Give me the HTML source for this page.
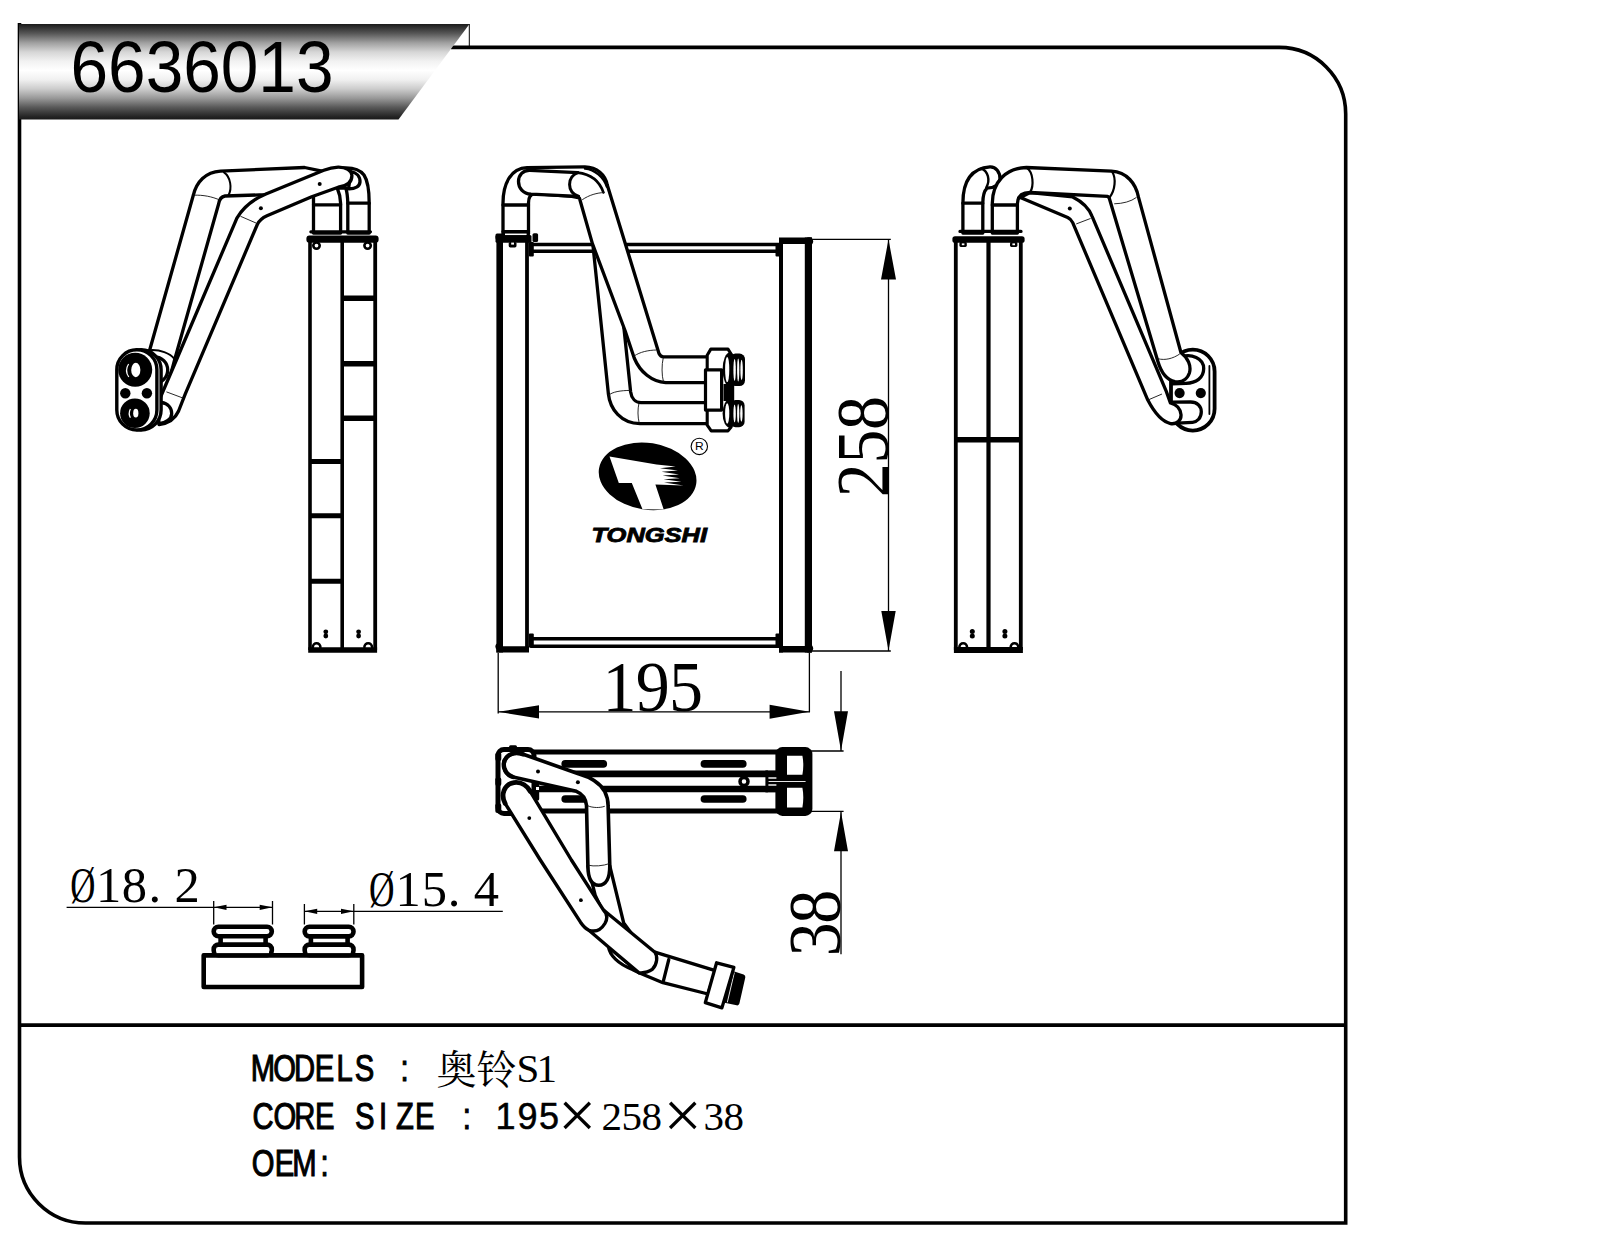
<!DOCTYPE html>
<html lang="zh">
<head>
<meta charset="utf-8">
<title>6636013</title>
<style>
html,body{margin:0;padding:0;background:#fff;}
body{width:1598px;height:1244px;overflow:hidden;}
svg{display:block;}
.k{fill:none;stroke:#000;stroke-linecap:round;stroke-linejoin:round;}
.w{fill:#fff;stroke:#000;stroke-linecap:round;stroke-linejoin:round;}
.bt{stroke-linecap:butt;}
.t{fill:none;stroke:#111;stroke-width:0.9;stroke-linecap:round;}
.d{fill:none;stroke:#000;stroke-width:1.3;}
.b{fill:#000;stroke:none;}
.sans{font-family:"Liberation Sans",sans-serif;}
.serif{font-family:"Liberation Serif","Noto Serif CJK SC",serif;}
.mono{font-family:"Liberation Mono","Noto Sans CJK SC",monospace;}
</style>
</head>
<body>
<svg width="1598" height="1244" viewBox="0 0 1598 1244" stroke-width="3.3">
<defs>
<linearGradient id="bg" x1="0" y1="0" x2="0" y2="1">
<stop offset="0" stop-color="#1a1a1a"/>
<stop offset="0.10" stop-color="#585858"/>
<stop offset="0.197" stop-color="#a0a0a0"/>
<stop offset="0.293" stop-color="#d6d6d6"/>
<stop offset="0.39" stop-color="#f2f2f2"/>
<stop offset="0.486" stop-color="#ffffff"/>
<stop offset="0.584" stop-color="#f0f0f0"/>
<stop offset="0.68" stop-color="#cccccc"/>
<stop offset="0.777" stop-color="#989898"/>
<stop offset="0.873" stop-color="#585858"/>
<stop offset="0.97" stop-color="#242424"/>
<stop offset="1" stop-color="#1a1a1a"/>
</linearGradient>
</defs>
<rect x="0" y="0" width="1598" height="1244" fill="#fff"/>
<!-- FRAME -->
<g id="frame">
<path d="M19.5 23 V1157 A66 66 0 0 0 85.5 1223 H1345.7 V114 A66.5 66.5 0 0 0 1279.2 47.4 H451" fill="none" stroke="#000" stroke-width="3.6"/>
<path d="M19.5 1025.1 H1345.7" fill="none" stroke="#000" stroke-width="3.6"/>
<path d="M469.3 24 V47.4" fill="none" stroke="#000" stroke-width="1"/>
<polygon points="19,24 469.5,24 398.5,119.6 19,119.6" fill="url(#bg)"/>
<text class="sans" x="70.5" y="91.5" font-size="73" textLength="263" lengthAdjust="spacingAndGlyphs">6636013</text>
</g>
<!-- LEFTVIEW -->
<g id="left">
<!-- back pipe (wide) -->
<path class="w" d="M322 171.2 L304.6 167.5 L220.5 171.1 C205.5 172 196.5 182 193.3 195.3 L149.7 350 L141 385 L166 392 L175 358.4 L218.6 204 C219.3 199.5 221 196.6 225 196 L265 194.7 L304 190 Z"/>
<path class="k" stroke-width="2" d="M224 172.4 C230.5 177 232.4 188 228.4 195.4"/>
<path class="t" d="M194.2 195.2 C203 194.8 212 196.6 219.8 200"/>
<path class="k" stroke-width="2" d="M149.9 350.2 C160 349.5 170 353 174.4 359"/>
<!-- port flanges behind connector -->
<circle class="w" cx="154.5" cy="370" r="13.2"/>
<!-- right elbow and stubs -->
<path class="w" d="M338 168.5 C350 166.8 359 168.5 364 175 C368 181 369.2 190 369.2 203.2 V233 H347.8 V203 C347.6 196 347 192 345.8 188 L337.2 188 C339 192 340.4 197 340.6 203.2 V233 H313.5 V190 Z"/>
<path class="k" d="M313.5 204.8 H340.6 M347.8 203.2 H369.2 M310.9 231.8 H370.4"/>
<path class="w" d="M351 171.6 C356.5 172.5 360.2 176.5 360 182 C359.6 186.5 355 189 348.5 188.8 Z"/>
<!-- front pipe (thin) -->
<path class="w" d="M351.9 175.5 C351.6 170.5 346 167 338.2 167.1 C333 167.3 328 168.6 323.8 170.3 L265.9 194 C254 199 243.5 207 236.9 218.1 L177.9 356.5 L158 403 L159 424.5 C170 423 176 417 178.6 411 L185.2 394.1 L257.3 224.5 C259.5 220 262.5 217.8 267 215.8 L311.7 196.8 L338.2 187.2 C347 186 352 182 351.9 175.5 Z"/>
<path class="k" d="M161.5 402.5 C168 403.5 171.7 408 171.7 413.5 C171.7 419 166 423 159 423.6"/>
<circle class="b" cx="319.7" cy="184.1" r="2"/>
<circle class="b" cx="260.9" cy="208.2" r="2"/>
<path class="t" d="M240.8 216.4 L256 223"/>
<path class="t" d="M166.8 392 L181.8 397.6"/>
<!-- core -->
<path class="k bt" stroke-width="3.6" d="M310 240 V650 M342.2 240 V650"/>
<path class="k bt" stroke-width="3.8" d="M375.2 240 V650"/>
<path class="k bt" stroke-width="5.6" d="M308.2 650 H377.1"/>
<path class="k bt" stroke-width="5.4" d="M342.2 298.3 H375.2 M342.2 363.7 H375.2 M342.2 418.2 H375.2"/>
<path class="k bt" stroke-width="5" d="M310 461.4 H342.2 M310 515.7 H342.2 M310 581.2 H342.2"/>
<rect class="b" x="306.4" y="235.4" width="72.2" height="7.4" rx="3"/>
<circle class="k" stroke-width="2.6" cx="316.5" cy="245.6" r="3.2"/><circle class="k" stroke-width="2.6" cx="367.6" cy="245.6" r="3.2"/>
<circle class="b" cx="325.8" cy="631.8" r="2.4"/><circle class="b" cx="325.8" cy="636" r="2.4"/>
<circle class="b" cx="358.6" cy="631.8" r="2.4"/><circle class="b" cx="358.6" cy="636" r="2.4"/>
<path class="k" stroke-width="2.6" d="M312.8 647 A3.8 3.8 0 0 1 320.4 647 M364.4 647 A3.8 3.8 0 0 1 372 647"/>
<!-- connector -->
<rect class="w" stroke-width="3.4" x="121" y="349.8" width="40.1" height="80.2" rx="20"/>
<rect class="w" stroke-width="3.4" x="116.8" y="349.8" width="40.1" height="80.2" rx="20"/>
<circle class="b" cx="135.2" cy="369.8" r="17"/>
<ellipse cx="135.8" cy="370" rx="4.6" ry="7.2" fill="#fff"/>
<path d="M128.6 364 C126 368 126 373 128.8 377" fill="none" stroke="#fff" stroke-width="1.2"/>
<circle class="b" cx="134.9" cy="413.3" r="14.8"/>
<ellipse cx="135.8" cy="413.2" rx="2.6" ry="4.4" fill="#fff"/>
<path d="M130.4 409 C128.8 412 128.8 415 130.4 417.8" fill="none" stroke="#fff" stroke-width="1.2"/>
<circle class="b" cx="125.3" cy="393.2" r="5.2"/>
<circle class="b" cx="146.9" cy="393.2" r="5.2"/>
</g>

<!-- /LEFTVIEW -->
<!-- FRONTVIEW -->
<g id="front">
<!-- core top/bottom bars -->
<path class="k" stroke-width="3.4" d="M531 244.5 H779 M531 251.3 H779"/>
<path class="k" stroke-width="3.4" d="M531 638.8 H779 M531 646.2 H779"/>
<rect class="b" x="528.9" y="242" width="4.9" height="14.5" rx="1"/>
<rect class="b" x="775.5" y="245" width="4.5" height="11.5" rx="1"/>
<rect class="b" x="528.9" y="633.5" width="4.9" height="14" rx="1"/>
<rect class="b" x="775.5" y="633.5" width="4.5" height="14" rx="1"/>
<!-- left tank -->
<path class="k bt" stroke-width="6.6" d="M499.7 240 V652.6"/>
<path class="k bt" stroke-width="3.8" d="M527 240 V652"/>
<path class="k bt" stroke-width="6.4" d="M496.4 649.4 H529"/>
<circle class="b" cx="499" cy="646.5" r="3.6"/>
<!-- right tank -->
<path class="k bt" stroke-width="4" d="M781 238 V652.6"/>
<path class="k bt" stroke-width="7.2" d="M808.4 237.5 V652.6"/>
<path class="k bt" stroke-width="6.4" d="M779 240.7 H812"/>
<path class="k bt" stroke-width="6.6" d="M779 649.3 H812"/>
<circle class="b" cx="809" cy="241.5" r="4.2"/>
<circle class="b" cx="809" cy="648.5" r="4.2"/>
</g>
<g id="frontpipes">
<!-- P2 thin pipe (behind) -->
<path class="w" d="M592 236 L608.4 394 C610 409 621 423.6 640 423.6 H708 V402.6 H641 C635.5 402.6 631.5 398.5 630.6 391.7 L621 300 L606 236 Z"/>
<path class="t" d="M608.6 395.2 C612.5 391.8 620 390.5 630.4 390.4"/>
<path class="t" d="M638.9 403.5 C637.6 409 637.6 417 639.1 422.5"/>
<!-- P1 wide pipe -->
<path class="w" d="M503 234 V203 C503 185 510 168.2 527 167.6 L585 166.9 C597 167 605.4 175 607.2 184.7 L659 353.5 C660 355.6 661.5 356.8 663.5 356.8 H709 V382.6 H665.7 C652 382 640 372 634.2 358 L625.2 331 L592.4 243.6 L579.4 198 L572 196.4 L534.5 193.6 C530.5 194 528.5 197 528.5 203 V234 Z"/>
<!-- inner horizontal tube -->
<path class="w" d="M577.6 172.6 L530 170.4 C523 170 518.5 175 518.5 181.5 C518.5 188 523 193.5 531 194.2 L578.5 196.4"/>
<path class="k" stroke-width="3" d="M577.6 172.6 C567 177 566.5 192 578.5 196.4"/>
<path class="k" stroke-width="2.6" d="M577.6 172.6 C590 174 599.5 181 603.4 192.4"/>
<path class="k" stroke-width="2.4" d="M585 168.5 C595 169.5 603.5 177 606.8 186.5"/>
<path class="t" d="M582.5 199.6 C589 195 597 192.8 604.2 192.5"/>
<path class="t" d="M634.4 355.8 C640 352 648 350.2 656 350"/>
<path class="t" d="M663.2 358 C661.6 365 661.6 375 663.4 381.6"/>
<!-- stub bands -->
<path class="k" d="M503 205 H528.5 M503 231.6 H528.5"/>
<!-- cap -->
<rect class="b" x="495.5" y="235" width="36" height="7.8" rx="1.5"/>
<rect class="b" x="495.5" y="233.4" width="8" height="6" rx="1.5"/>
<rect class="b" x="532.5" y="233.2" width="5.6" height="8.8" rx="1.6"/>
<path d="M505 234.3 H526.6" stroke="#fff" stroke-width="1.5" fill="none"/>
<rect class="b" x="508.7" y="242" width="7.8" height="5.4" rx="1.6"/>
<rect x="511.2" y="242.6" width="2.8" height="2" fill="#fff"/>
<!-- flange -->
<path class="w" stroke-width="3.1" d="M710.8 349.1 H728 L731.1 354 V427 L728 430.9 H711.2 L707.2 425.2 V355.3 Z"/>
<rect class="w" stroke-width="3.2" x="705.5" y="369.8" width="16.1" height="40.3"/>
<!-- ports -->
<rect class="b" x="723.5" y="384" width="10.7" height="17"/>
<ellipse cx="729.8" cy="369.5" rx="7.2" ry="17" class="b"/>
<ellipse cx="727.2" cy="369.5" rx="2.1" ry="12.6" fill="#fff"/>
<rect class="b" x="730" y="353.6" width="15" height="32.4" rx="5.5"/>
<ellipse cx="734.6" cy="370" rx="1.2" ry="11" fill="#fff"/>
<ellipse cx="738.2" cy="370" rx="1.1" ry="11.5" fill="#fff"/>
<ellipse cx="741.6" cy="370" rx="1.2" ry="10.2" fill="#fff"/>
<ellipse cx="729.8" cy="413.5" rx="7.2" ry="14.2" class="b"/>
<ellipse cx="727.2" cy="413.5" rx="2.1" ry="10.2" fill="#fff"/>
<rect class="b" x="730" y="400" width="14.6" height="27.2" rx="5.5"/>
<ellipse cx="734.6" cy="413.5" rx="1.2" ry="9" fill="#fff"/>
<ellipse cx="738.2" cy="413.5" rx="1.1" ry="9.5" fill="#fff"/>
<ellipse cx="741.4" cy="413.5" rx="1.2" ry="8.2" fill="#fff"/>
</g>

<!-- /FRONTVIEW -->
<!-- RIGHTVIEW -->
<g id="right">
<!-- connector (behind pipes) -->
<rect class="w" stroke-width="3.8" x="1171" y="349.6" width="43.6" height="81" rx="21.8"/>
<path class="k" stroke-width="1.8" d="M1209.4 366 V414"/>
<path class="k" d="M1181.5 356.8 C1191 353.5 1203.7 358 1203.7 368.5 C1203.7 378 1196 383 1186 383.4 L1172.4 383.8"/>
<path class="k" d="M1173 402.2 L1190.7 402 C1197 402 1201.3 406 1201.3 411.7 C1201.3 418 1197 422 1192.6 422.3 L1177.2 423.2"/>
<circle class="b" cx="1179.6" cy="393.1" r="5.1"/>
<circle class="b" cx="1200.8" cy="393.1" r="5.1"/>
<!-- left (thin) elbow + stub -->
<path class="w" d="M962.9 233 V203 C962.9 182 971 168.3 990 166.9 C996 166.7 1000 172 1000 178.8 C999.6 185 994 188 987 188.2 C984 191 982.9 196 982.8 203 V233 Z"/>
<path class="k" stroke-width="2.4" d="M981.3 168.6 C988 171 990.5 180 986.3 187.6"/>
<!-- thin pipe -->
<path class="w" d="M1020.3 197.4 L1067.7 217.6 C1070.5 219 1071.8 220.6 1072.7 222.6 L1147.8 400.1 C1154 412 1161 421.5 1170.5 423.6 C1177 424.6 1181.4 420 1181 414.6 C1180.4 408.5 1176 404.4 1170.4 403 L1166.3 391.4 L1092.1 216.3 C1089.5 209.5 1083 202 1072.7 196.9 L1030.1 192.5 Z"/>
<circle class="b" cx="1069.8" cy="208.6" r="2"/>
<path class="t" d="M1076.6 223.8 L1090.2 218.6"/>
<path class="t" d="M1148 400 L1161.6 394.2"/>
<!-- right (big) elbow + stub + horizontal big pipe + diagonal + round end -->
<path class="w" d="M992.3 233 V203.2 C992.5 182 1006 167.8 1026.4 167.5 L1111.5 171.2 C1127 172 1136 184 1138.4 196.9 L1181 352.8 C1188 358 1191.5 366 1189.4 373 C1187 380 1181 382.5 1175 381.6 C1167 380 1161 372 1157.9 361.5 L1109.2 198 L1107.7 196.3 L1030.1 192.5 C1022 192.6 1017.6 196 1017.4 203.8 V233 Z"/>
<path class="k" stroke-width="2.2" d="M1026.4 167.6 C1033.5 172 1034 186 1030.1 192.4"/>
<path class="k" stroke-width="2.2" d="M1112.3 172 C1116 178 1115.5 190 1109.5 197.5"/>
<path class="t" d="M1114.6 203.8 C1123 203.6 1131 201.5 1136.2 197.6"/>
<path class="t" d="M1158.2 358.8 C1165 360.6 1173 358.6 1179.4 354.2"/>
<path class="k" d="M962.9 203.2 H982.8 M992.3 205 H1017.4 M960 231.4 H1021"/>
<!-- core -->
<path class="k bt" stroke-width="3.8" d="M955.8 240 V650 M1020.8 240 V650"/>
<path class="k bt" stroke-width="4.2" d="M988.5 240 V650"/>
<path class="k bt" stroke-width="5.8" d="M953.9 650 H1022.9"/>
<path class="k bt" stroke-width="5.4" d="M955.8 439.8 H1020.8"/>
<rect class="b" x="952.4" y="236.2" width="72.2" height="6.6" rx="2.6"/>
<rect class="b" x="959.4" y="242" width="7.4" height="5" rx="1.4"/><rect x="961.8" y="243.4" width="2.6" height="1.8" fill="#fff"/>
<rect class="b" x="1010" y="242" width="7.4" height="5" rx="1.4"/><rect x="1012.4" y="243.4" width="2.6" height="1.8" fill="#fff"/>
<circle class="b" cx="972.3" cy="631.6" r="2.5"/><circle class="b" cx="972.3" cy="636" r="2.5"/>
<circle class="b" cx="1004.9" cy="631.6" r="2.5"/><circle class="b" cx="1004.9" cy="636" r="2.5"/>
<path class="k" stroke-width="2.6" d="M959.4 647 A3.8 3.8 0 0 1 967 647 M1010.7 647 A3.8 3.8 0 0 1 1018.3 647"/>
</g>

<!-- /RIGHTVIEW -->
<!-- BOTTOMVIEW -->
<g id="bottom">
<!-- core lines -->
<path class="k bt" stroke-width="5.2" d="M534 752 H781 M536 811 H781"/>
<path class="k bt" stroke-width="6.8" d="M536 773.8 H768"/>
<path class="k bt" stroke-width="6.6" d="M536 789 H768"/>
<path class="k" stroke-width="7.6" d="M565.2 763.9 H603.3 M704.4 763.9 H742.8 M565.2 799 H603.3 M704.4 799 H742.8"/>
<circle class="w" stroke-width="3.5" cx="744" cy="781.5" r="4"/>
<!-- right end block -->
<rect class="b" x="765.4" y="770.4" width="24" height="22"/>
<rect class="b" x="775.4" y="747.1" width="37" height="68.8" rx="7"/>
<path d="M787 755.8 H802.4 C803.6 762 803.6 768.5 802.4 774.7 H787 Z M787 787.8 H802.4 C803.6 794 803.6 801 802.4 807.4 H787 Z" fill="#fff"/>
<path d="M768.6 781.5 H805.6" stroke="#fff" stroke-width="0.9" fill="none"/>
<rect x="768.4" y="777.3" width="8" height="1.4" fill="#fff"/><rect x="768.4" y="784.3" width="8" height="1.4" fill="#fff"/>
<!-- left end block -->
<rect class="w" stroke-width="5" x="498" y="749.4" width="36" height="64" rx="6"/>
<rect class="b" x="495.3" y="752.4" width="6" height="8.5" rx="2"/><rect class="b" x="495.3" y="777.5" width="6" height="8.5" rx="2"/><rect class="b" x="495.3" y="803.5" width="6" height="9.5" rx="2"/>
<rect class="b" x="509" y="745.2" width="8" height="4" rx="1.5"/>
<rect class="b" x="532" y="782" width="7.2" height="18.5" rx="1.5"/>
<rect x="536" y="787" width="3" height="3" fill="#fff"/>
<!-- hidden segment from pipe1 end -->
<path class="w" d="M587.9 866 L609.8 866 L623.7 923 L640 945 L603 912 L595.2 895.1 Z"/>
<!-- segment 4 + flange + threads -->
<path class="w" d="M654.9 952.2 L715.3 970.7 L708 994 L662.9 982.7 L639 972.7 Z"/>
<path class="k" d="M668.8 959.5 L663.5 980.7"/>
<path class="b" d="M730.5 970.3 L743.6 974.6 Q745.8 975.4 745.3 977.6 L739.4 1003.6 Q738.8 1005.8 736.6 1005.3 L723.4 1002.4 Z"/>
<path d="M734.3 972.6 L727.3 1002.4" stroke="#fff" stroke-width="0.9" fill="none"/>
<path class="w" stroke-width="3.3" d="M716.6 962.8 L733.9 967.4 L721.9 1007.9 L705.3 1002.6 Z"/>
<!-- crescent + segment 3 -->
<path class="w" d="M608.5 946.9 C609.5 955 618 964 632.4 969.4 L639 972.7 Z"/>
<path class="w" d="M603.2 909.7 L654.9 952.2 C657.8 956 657.5 964 652.3 969.4 C648 972.5 643 973 639 972.7 L608.5 946.9 L588.6 930 Z"/>
<!-- pipe 2 -->
<path fill="#fff" d="M505.1 803.3 L540.3 860 L580.5 922.2 Q584.6 928.2 589 930.3 C595 932.2 601 930 604.9 923.5 C608 918 607 913.2 603.2 909.7 L571.4 860 L530.2 791.3 C527.5 786.5 522 781.6 514 782.6 C504 784 500.5 795 505.1 803.3 Z"/>
<path class="k" stroke-width="3.4" d="M505.1 803.3 L540.3 860 L580.5 922.2 Q584.6 928.2 589 930.3 C595 932.2 601 930 604.9 923.5 C608 918 607 913.2 603.2 909.7 L571.4 860 L530.2 791.3"/>
<path class="k" stroke-width="4.8" d="M505.1 803.3 C500.5 795 504 784 514 782.6 C522 781.6 527.5 786.5 530.2 791.3"/>
<circle class="b" cx="529.3" cy="818.1" r="1.9"/><circle class="b" cx="580.9" cy="900.2" r="1.9"/>
<!-- pipe 1 -->
<path class="w" stroke-width="3.6" d="M523.2 754.3 L578.4 773.7 C590 777 600 783 604.6 791.3 C607.5 797 608.1 801 608.1 805.4 L609.8 866 C609.8 878 606 885.2 598.8 885.2 C591 885.2 588 878 587.9 866 L586.5 805.4 C586 800 583 794 576.4 791.3 L513 777 C503.5 774 501.5 763 506.5 757.5 C510.5 753.2 517 752.3 523.2 754.3 Z"/>
<path class="k" stroke-width="4.4" d="M513 777 C503.5 774 501.5 763 506.5 757.5 C510.5 753.2 517 752.3 523.2 754.3"/>
<circle class="b" cx="538" cy="771.4" r="2"/><circle class="b" cx="577.9" cy="782.2" r="2"/>
<path class="t" d="M588 805.9 C593 808 600 808 604.4 806.4"/>
<path class="t" d="M588.6 865.3 C594 866.6 603 866 609.4 863.6"/>
</g>

<!-- /BOTTOMVIEW -->
<!-- FITTINGS -->
<g id="fittings" stroke-width="4.6">
<rect class="w" x="203.7" y="955.2" width="158.4" height="31.8"/>
<rect class="w" x="220.6" y="934" width="45" height="14"/>
<rect class="w" x="213.7" y="926.8" width="58.1" height="9.4" rx="4.7"/>
<rect class="w" x="213.7" y="944.6" width="58.1" height="10.6" rx="4.7"/>
<rect class="w" x="310.9" y="934" width="36.7" height="14"/>
<rect class="w" x="304.7" y="926.8" width="48.8" height="9.6" rx="4.7"/>
<rect class="w" x="304.7" y="944.6" width="48.8" height="10.6" rx="4.7"/>
<path class="k bt" d="M203.7 955.2 H362.1"/>
<rect x="216.5" y="950.5" width="52.5" height="2.6" fill="#fff"/>
<rect x="307.5" y="950.5" width="43.2" height="2.6" fill="#fff"/>
</g>

<!-- /FITTINGS -->
<!-- LOGO -->
<g id="logo">
<ellipse class="b" cx="647.6" cy="476.3" rx="49.2" ry="33.4" transform="rotate(9 647.6 476.3)"/>
<path fill="#fff" d="M609.5 456.6 L656.5 464.6 L675.6 466.6 L660 468.2 L677.9 470.4 L661.5 471.8 L679 474.4 L662.5 475.6 L679.8 478.3 L663.5 479.2 L681.4 481.8 L664 482.6 L683.6 485.6 L655.4 484.5 L663.7 509.6 L642.5 509.2 L631.8 483 L618.8 483 Z"/>
<circle cx="699.3" cy="446.4" r="8.2" fill="none" stroke="#000" stroke-width="1.1"/>
<text class="sans" x="699.3" y="450.3" font-size="10.5" text-anchor="middle" transform="translate(699.3 0) scale(1.15 1) translate(-699.3 0)">R</text>
<text class="sans" x="591.5" y="542" font-size="19.3" font-weight="bold" font-style="italic" textLength="115.5" lengthAdjust="spacingAndGlyphs" stroke="#000" stroke-width="0.8">TONGSHI</text>
</g>

<!-- /LOGO -->
<!-- DIMS -->
<g id="dims">
<!-- 195 -->
<path class="d" d="M498.2 653 V713.5 M809.4 653 V712.5 M498.2 711.8 H809.4"/>
<path class="b" d="M498.2 711.8 L539 705.2 V718.4 Z M809.4 711.8 L769.6 704.8 V718.8 Z"/>
<text class="serif" font-size="68" transform="translate(0 710.6) scale(1 1.07)" x="602.5 635.7 669" y="0">195</text>
<!-- 258 -->
<path class="d" d="M812 239.3 H890.8 M811 651 H890.8 M888.5 239.3 V651"/>
<path class="b" d="M888.5 239.3 L881 279.6 H896 Z M888.5 650.8 L881.3 611.1 H895.7 Z"/>
<text class="serif" font-size="68" transform="translate(887.8 497.2) rotate(-90) scale(1 1.1)" x="0 33.6 67.3" y="0">258</text>
<!-- 38 -->
<path class="d" d="M841 671 V750.8 M810.7 751 H843.6 M810.7 811.4 H843.6 M841 812 V954.2"/>
<path class="b" d="M841 750.8 L834 711.2 H848 Z M841 812 L834 851.3 H848 Z"/>
<text class="serif" font-size="68" transform="translate(840.3 956.3) rotate(-90) scale(1 1.1)" x="0 32.5" y="0">38</text>
<!-- dia 18.2 -->
<path class="d" d="M66.6 907.3 H273.1 M213.7 901 V924.5 M272.5 901 V924.5"/>
<path class="b" d="M213.7 907.3 L226.5 904.7 V909.9 Z M272.5 907.3 L259.7 904.7 V909.9 Z"/>
<text class="serif" font-size="50.5" transform="translate(70.3 902.3) scale(0.69 1)" x="0" y="0">Ø</text><text class="serif" font-size="50.5" x="96 121.8 148.4 174.5" y="902.3">18.2</text>
<!-- dia 15.4 -->
<path class="d" d="M304.4 911.3 H502.8 M304.4 904 V924.5 M353.8 904 V924.5"/>
<path class="b" d="M304.4 911.3 L317.2 908.7 V913.9 Z M353.8 911.3 L341 908.7 V913.9 Z"/>
<text class="serif" font-size="50.5" transform="translate(369 906.4) scale(0.7 1)" x="0" y="0">Ø</text><text class="serif" font-size="50.5" x="395.5 421.8 447.8 473.8" y="906.4">15.4</text>
</g>

<!-- /DIMS -->
<!-- INFO -->
<g id="info">
<g transform="translate(253,1080.7) scale(0.8,1)"><text xml:space="preserve" class="sans" font-size="36.5" text-anchor="middle" stroke="#000" stroke-width="1.1" x="12.5 39.5 64.5 89.5 114.5 139.5 164.5 189.6 212.5" y="0">MODELS : </text></g>
<text class="serif" font-size="40" x="436.5" y="1083.5">奥铃</text>
<text class="serif" font-size="41" x="516.5 536.5" y="1081.5">S1</text>
<g transform="translate(253,1128.7) scale(0.8,1)"><text xml:space="preserve" class="sans" font-size="36.5" text-anchor="middle" stroke="#000" stroke-width="1.1" x="12.5 39.8 64.8 89.8 114.8 139.8 162.5 189.8 214.8 239.8 267.2 290.0" y="0">CORE SIZE : </text></g>
<text class="sans" font-size="36" text-anchor="middle" stroke="#000" stroke-width="0.5" x="505.5 527.4 548.9" y="1128.7">195</text>
<text class="serif" font-size="41" y="1129.5"><tspan x="558" y="1138" font-size="68">×</tspan><tspan x="601.5 621.5 641.5" y="1129.5">258</tspan><tspan x="663.5" y="1138" font-size="68">×</tspan><tspan x="703.5 723.5" y="1129.5">38</tspan></text>
<g transform="translate(253,1175.8) scale(0.8,1)"><text xml:space="preserve" class="sans" font-size="36.5" text-anchor="middle" stroke="#000" stroke-width="1.1" x="12.5 39.4 64.4 89.5" y="0">OEM:</text></g>
</g>
<!-- /INFO -->
</svg>
</body>
</html>
